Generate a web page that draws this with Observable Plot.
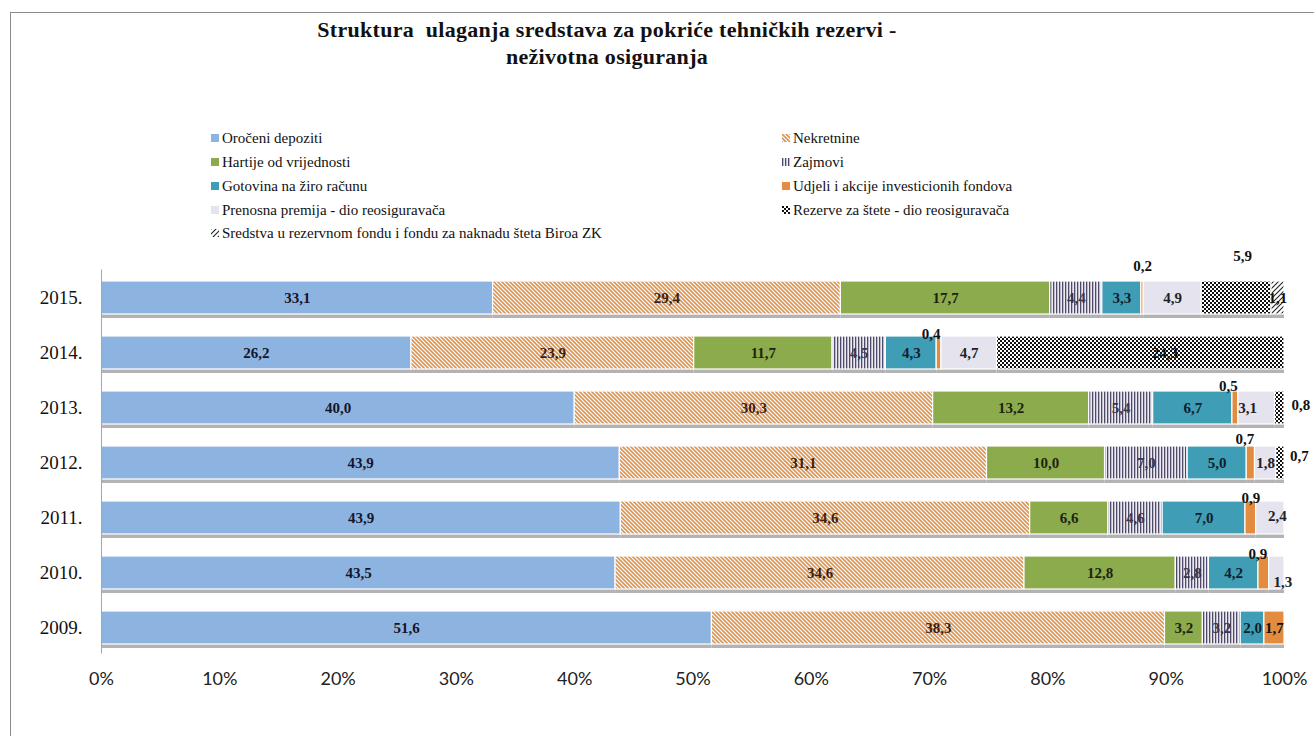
<!DOCTYPE html>
<html>
<head>
<meta charset="utf-8">
<script src="https://cdn.jsdelivr.net/npm/d3@7"></script>
<script src="https://cdn.jsdelivr.net/npm/@observablehq/plot@0.6"></script>
<style>
html,body{margin:0;padding:0;background:#fff;overflow:hidden;width:1314px;height:736px}
#wrap{position:relative;width:1314px;height:736px;overflow:hidden;background:#fff}
#frame{position:absolute;left:10px;top:12px;width:1330px;height:760px;border:1px solid #8a8a8a;box-sizing:border-box}
#title{position:absolute;left:607px;top:16px;transform:translateX(-50%);font-family:"Liberation Serif","Times New Roman",serif;font-weight:bold;font-size:22px;letter-spacing:0.3px;text-align:center;line-height:27px;white-space:nowrap;color:#111}
.leg{position:absolute;color:#111;white-space:nowrap;display:flex;align-items:center;height:20px}
.leg span{font-family:"Liberation Serif","Times New Roman",serif;font-size:15px}
.leg svg{margin-right:3px;flex:none}
#chart{position:absolute;left:0;top:240px}
#chart g[aria-label="x-axis tick label"] text{font-family:Lato,sans-serif;font-size:18px;fill:#222}
#chart g[aria-label="y-axis tick label"] text{font-family:"Liberation Serif",serif;font-size:19px;fill:#111}
</style>
</head>
<body>
<svg width="0" height="0" style="position:absolute">
  <defs>
    <pattern id="pNek" patternUnits="userSpaceOnUse" width="4" height="4">
      <rect width="4" height="4" fill="#fff"/>
      <path d="M-1,-1 L5,5 M3,-1 L5,1 M-1,3 L1,5" stroke="#dc9450" stroke-width="1.6"/>
    </pattern>
    <pattern id="pZaj" patternUnits="userSpaceOnUse" width="3" height="3">
      <rect width="3" height="3" fill="#eceaf3"/>
      <rect x="0" y="0" width="1.3" height="3" fill="#4f4a68"/>
    </pattern>
    <pattern id="pRez" patternUnits="userSpaceOnUse" width="4" height="4">
      <rect width="4" height="4" fill="#fff"/>
      <rect x="0" y="0" width="2" height="2" fill="#111"/>
      <rect x="2" y="2" width="2" height="2" fill="#111"/>
    </pattern>
    <pattern id="pSre" patternUnits="userSpaceOnUse" width="5" height="5">
      <rect width="5" height="5" fill="#fff"/>
      <path d="M-1,6 L6,-1 M-1,1 L1,-1 M4,6 L6,4" stroke="#222" stroke-width="1.1"/>
    </pattern>
  </defs>
</svg>
<div id="wrap">
  <div id="frame"></div>
  <div id="title">Struktura&nbsp; ulaganja sredstava za pokriće tehničkih rezervi -<br>neživotna osiguranja</div>
  <div id="legend"></div>
  <div id="chart"></div>
</div>
<script>
// ---- data ----
const years = ["2015.", "2014.", "2013.", "2012.", "2011.", "2010.", "2009."];
const categories = [
  "Oročeni depoziti",
  "Nekretnine",
  "Hartije od vrijednosti",
  "Zajmovi",
  "Gotovina na žiro računu",
  "Udjeli i akcije investicionih fondova",
  "Prenosna premija - dio reosiguravača",
  "Rezerve za štete - dio reosiguravača",
  "Sredstva u rezervnom fondu i fondu za naknadu šteta Biroa ZK"
];
const orocheniDepoziti = [33.1, 26.2, 40.0, 43.9, 43.9, 43.5, 51.6];
const nekretnine      = [29.4, 23.9, 30.3, 31.1, 34.6, 34.6, 38.3];
const hartije         = [17.7, 11.7, 13.2, 10.0, 6.6, 12.8, 3.2];
const zajmovi         = [4.4, 4.5, 5.4, 7.0, 4.6, 2.8, 3.2];
const gotovina        = [3.3, 4.3, 6.7, 5.0, 7.0, 4.2, 2.0];
const udjeli          = [0.2, 0.4, 0.5, 0.7, 0.9, 0.9, 1.7];
const prenosnaPremija = [4.9, 4.7, 3.1, 1.8, 2.4, 1.3, 0];
const rezerveZaStete  = [5.9, 24.3, 0.8, 0.7, 0, 0, 0];
const sredstvaBiroa   = [1.1, 0, 0, 0, 0, 0, 0];
const xTicks = [0, 10, 20, 30, 40, 50, 60, 70, 80, 90, 100];

const series = [orocheniDepoziti, nekretnine, hartije, zajmovi, gotovina, udjeli, prenosnaPremija, rezerveZaStete, sredstvaBiroa];

// ---- styles ----
const fills = ["#8db3e1", "url(#pNek)", "#8cab4c", "url(#pZaj)", "#3f9db6", "#e38b3f", "#e5e4ee", "url(#pRez)", "url(#pSre)"];
const labelColors = ["#15152a", "#3d1f12", "#1c2410", "#3a3650", "#10202a", "#111", "#222", "#111", "#111"];
// label offsets [dx, dy] keyed by "yearIndex|categoryIndex"
const labelNudge = {
  "0|5": [0, -32], "0|7": [6, -42],
  "1|5": [-8, -19], "1|7": [24, 0],
  "2|5": [-7, -22], "2|6": [-9, 0], "2|7": [21, -3],
  "3|5": [-6, -24], "3|7": [19, -7],
  "4|5": [0, -20], "4|6": [7, -2],
  "5|5": [-6, -19], "5|6": [6, 9]
};

// ---- build rows (Excel-like 100% stacking) ----
const rows = [];
years.forEach((year, yi) => {
  const total = d3.sum(series, s => s[yi]);
  let acc = 0;
  series.forEach((s, ci) => {
    const v = s[yi];
    if (v > 0) {
      const x1 = acc / total * 100;
      acc += v;
      const x2 = acc / total * 100;
      rows.push({year, yi, ci, value: v, x1, x2, mid: (x1 + x2) / 2,
                 label: v.toFixed(1).replace(".", ","), key: yi + "|" + ci});
    }
  });
});

const fmt = d => d + "%";
const textOpts = {fontWeight: "bold", fontSize: 15, fontFamily: "Liberation Serif, serif"};

const marks = [
  Plot.barX(rows, {x1: "x1", x2: "x2", y: "year", fill: "#b3b3b3", dy: 4}),
  Plot.barX(rows, {x1: "x1", x2: "x2", y: "year", fill: d => fills[d.ci], stroke: "white", strokeWidth: 1.2}),
  Plot.ruleX([0], {stroke: "#a6a6a6", insetTop: 11, insetBottom: 12}),
  Plot.axisX({ticks: xTicks, tickFormat: fmt, tickSize: 0, tickPadding: 6, label: null, fontSize: 18}),
  Plot.axisY({tickSize: 0, tickPadding: 19, label: null, fontSize: 19}),
  Plot.text(rows.filter(d => !labelNudge[d.key]), {x: "mid", y: "year", text: "label", fill: d => labelColors[d.ci], ...textOpts})
];
for (const [key, [dx, dy]] of Object.entries(labelNudge)) {
  marks.push(Plot.text(rows.filter(d => d.key === key), {x: "mid", y: "year", text: "label", fill: d => labelColors[d.ci], dx, dy, ...textOpts}));
}

const chart = Plot.plot({
  width: 1314,
  height: 496,
  marginLeft: 101,
  marginRight: 30,
  marginTop: 18.5,
  marginBottom: 70.5,
  x: {domain: [0, 100], axis: null},
  y: {domain: years, padding: 0.4, axis: null},
  color: {type: "identity"},
  style: {background: "transparent", overflow: "visible"},
  marks
});
document.getElementById("chart").appendChild(chart);

// ---- legend ----
const legend = document.getElementById("legend");
const legendLayout = [
  {ci: 0, x: 211, y: 128}, {ci: 2, x: 211, y: 152}, {ci: 4, x: 211, y: 176}, {ci: 6, x: 211, y: 200}, {ci: 8, x: 211, y: 223},
  {ci: 1, x: 782, y: 128}, {ci: 3, x: 782, y: 152}, {ci: 5, x: 782, y: 176}, {ci: 7, x: 782, y: 200}
];
legendLayout.forEach(({ci, x, y}) => {
  const div = document.createElement("div");
  div.className = "leg";
  div.style.left = x + "px";
  div.style.top = y + "px";
  div.innerHTML = `<svg width="8" height="8"><rect width="8" height="8" fill="${fills[ci]}"/></svg><span>${categories[ci]}</span>`;
  legend.appendChild(div);
});
</script>
</body>
</html>
